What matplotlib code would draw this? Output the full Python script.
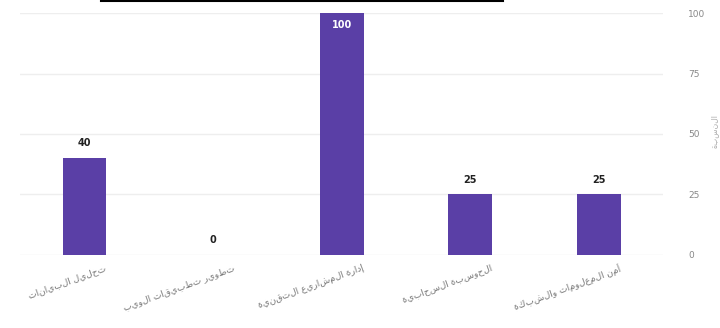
import matplotlib.pyplot as plt
import matplotlib.transforms as mtransforms
from matplotlib.lines import Line2D

# Data
categories = ['تحليل البيانات', 'تطوير تطبيقات الويب', 'إدارة المشاريع التقنية',
              'الحوسبة السحابية', 'أمن المعلومات والشبكة']
values = [40, 0, 100, 25, 25]
yticks = [0, 25, 50, 75, 100]


def rtl(s):
    # matplotlib has no bidi support, so flip the order for display
    return s[::-1]


bar_color = '#5a3fa6'

fig = plt.figure(figsize=(7.2, 3.28), dpi=100)
ax = fig.add_axes([0.028, 0.223, 0.893, 0.737])

x = range(len(values))
ax.bar(x, values, width=0.34, color=bar_color, zorder=3)

for xi, v in zip(x, values):
    if v >= 90:
        ax.text(xi, v - 3, str(v), ha='center', va='top', color='white',
                fontsize=7, fontweight='bold', zorder=4)
    else:
        ax.text(xi, v + 4, str(v), ha='center', va='bottom', color='#222222',
                fontsize=7, fontweight='bold', zorder=4)

ax.set_xlim(-0.5, len(values) - 0.5)
ax.set_ylim(0, 100)
ax.yaxis.tick_right()
ax.set_yticks(yticks)
ax.set_yticklabels([str(t) for t in yticks], fontsize=6.5, color='#888888')
ax.tick_params(axis='y', length=0, pad=18)
ax.grid(axis='y', color='#eeeeee', linewidth=1, zorder=0)
for s in ax.spines.values():
    s.set_visible(False)

ax.set_xticks(list(x))
ax.set_xticklabels([rtl(c) for c in categories], rotation=20, ha='right',
                   rotation_mode='anchor', fontsize=6.5, color='#777777')
ax.tick_params(axis='x', length=0, pad=6)
offset = mtransforms.ScaledTranslation(0.2, 0, fig.dpi_scale_trans)
for lbl in ax.get_xticklabels():
    lbl.set_transform(lbl.get_transform() + offset)

# small rotated axis title at the right edge
fig.text(0.992, 0.60, rtl('النسبة'), fontsize=5.5, color='#aaaaaa',
         rotation=90, ha='center', va='center')

# thin black rule along the top edge
fig.add_artist(Line2D([101 / 720, 503 / 720], [0.998, 0.998], color='black',
                      linewidth=1.5, transform=fig.transFigure))

fig.savefig('out.png', dpi=100, facecolor='white')
